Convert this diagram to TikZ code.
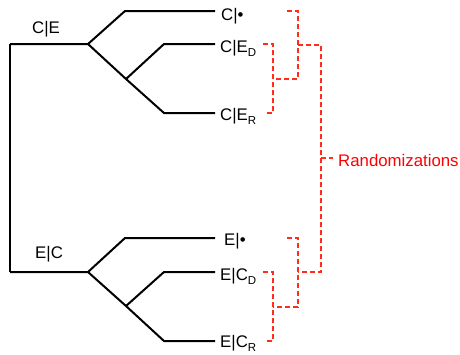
\documentclass[tikz,border=0pt]{standalone}
\usepackage{fontspec}
\setmainfont{Liberation Sans}
\definecolor{rnd}{RGB}{255,45,25}
\newcommand{\sbs}[1]{\raisebox{-4pt}{\fontsize{11.5}{11.5}\selectfont #1}}
\begin{document}
\begin{tikzpicture}[x=1pt,y=-1pt,
  tree/.style={line width=2pt, line join=miter},
  brk/.style={draw=rnd, line width=1.4pt, dash pattern=on 5pt off 3pt},
  lab/.style={font=\fontsize{16.8}{16.8}\selectfont, inner sep=0pt, anchor=base west},
  rlab/.style={lab, text=red}]
\useasboundingbox (0,0) rectangle (460,354);
% ---------- top tree ----------
\coordinate (rootT) at (10,44);
\coordinate (jT) at (88,44);
\coordinate (uT) at (125,11);
\coordinate (mT) at (126,79);
\coordinate (dT) at (164,44);
\coordinate (rT) at (164,113);
\coordinate (e1) at (215,11);
\coordinate (e2) at (215,44);
\coordinate (e3) at (215,113);
% ---------- bottom tree ----------
\coordinate (rootB) at (10,272);
\coordinate (jB) at (88,272);
\coordinate (uB) at (125,238);
\coordinate (mB) at (126,306);
\coordinate (dB) at (164,272);
\coordinate (rB) at (164,341);
\coordinate (e4) at (215,238);
\coordinate (e5) at (215,272);
\coordinate (e6) at (215,341);
\draw[tree] (rootT) -- (rootB);
\draw[tree] (rootT) -- (jT) -- (uT) -- (e1);
\draw[tree] (jT) -- (mT) -- (rT) -- (e3);
\draw[tree] (mT) -- (dT) -- (e2);
\draw[tree] (rootB) -- (jB) -- (uB) -- (e4);
\draw[tree] (jB) -- (mB) -- (rB) -- (e6);
\draw[tree] (mB) -- (dB) -- (e5);
% ---------- labels ----------
\node[lab] (lCE) at (32,33) {C|E};
\node[lab] (lEC) at (35,258) {E|C};
\node[lab] (n1) at (221,20) {C|•};
\node[lab] (n2) at (220,52) {C|E\sbs{D}};
\node[lab] (n3) at (220,120) {C|E\sbs{R}};
\node[lab] (n4) at (224,245) {E|•};
\node[lab] (n5) at (220,280) {E|C\sbs{D}};
\node[lab] (n6) at (220,347) {E|C\sbs{R}};
\node[rlab] (rand) at (338,166) {Randomizations};
% ---------- brackets ----------
\coordinate (a1) at (287,11);   \coordinate (a2) at (298,11);
\coordinate (a3) at (298,79);
\coordinate (b1) at (263,44);   \coordinate (b2) at (273,44);
\coordinate (b3) at (273,113);  \coordinate (b4) at (265,113);
\coordinate (b5) at (273,79);
\coordinate (c1) at (298,45);   \coordinate (c2) at (321,45);
\coordinate (c3) at (321,272);  \coordinate (c4) at (321,158);
\coordinate (c5) at (333,158);
\coordinate (f1) at (287,238);  \coordinate (f2) at (298,238);
\coordinate (f3) at (298,307);
\coordinate (g1) at (263,272);  \coordinate (g2) at (273,272);
\coordinate (g3) at (273,341);  \coordinate (g4) at (265,341);
\coordinate (g5) at (273,307);
\coordinate (h1) at (298,272);
\draw[brk] (a1) -- (a2) -- (a3) -- (b5);
\draw[brk] (b1) -- (b2) -- (b3) -- (b4);
\draw[brk] (c1) -- (c2) -- (c3) -- (h1);
\draw[brk] (c4) -- (c5);
\draw[brk] (f1) -- (f2) -- (f3) -- (g5);
\draw[brk] (g1) -- (g2) -- (g3) -- (g4);
\end{tikzpicture}
\end{document}
